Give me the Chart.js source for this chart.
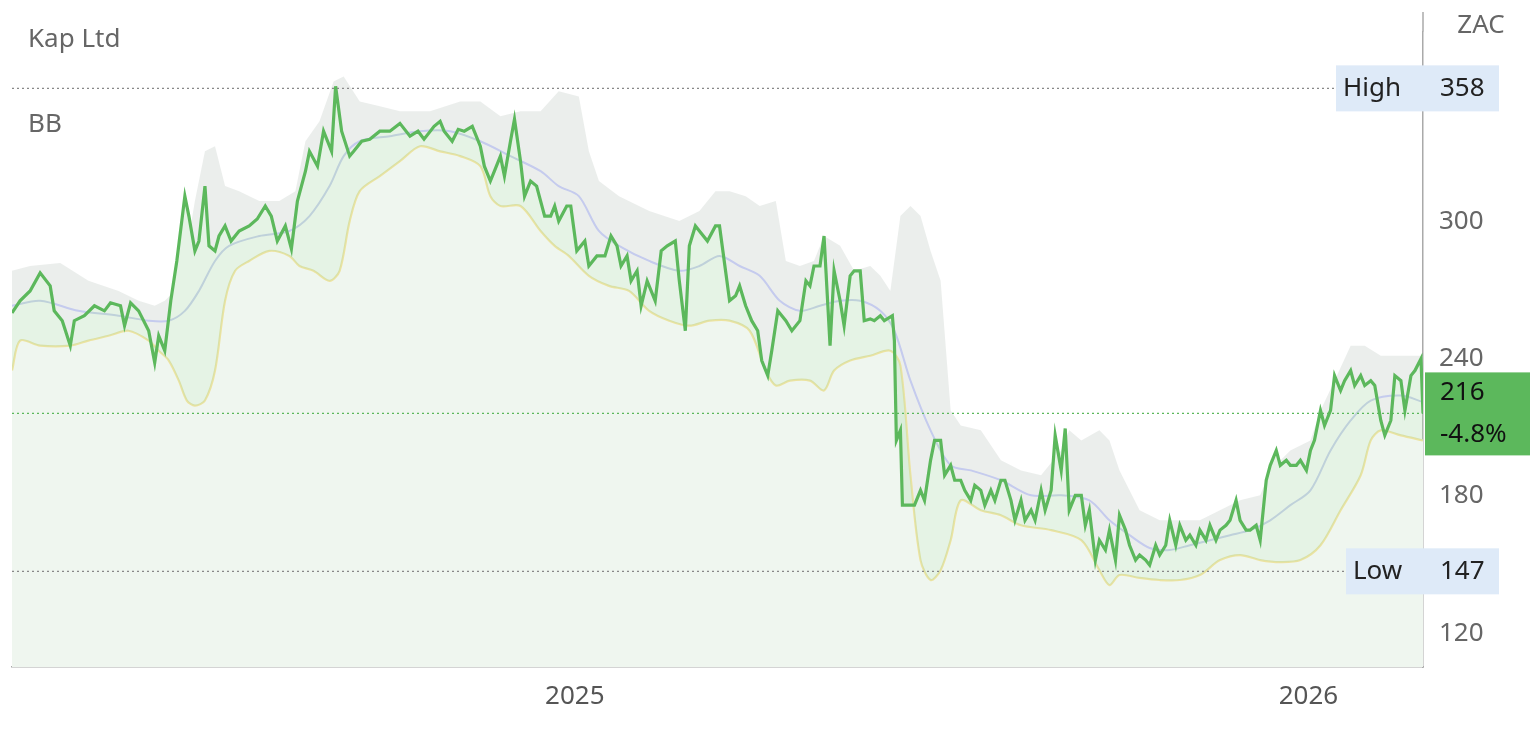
<!DOCTYPE html>
<html><head><meta charset="utf-8">
<script src="https://cdn.jsdelivr.net/npm/chart.js@4/dist/chart.umd.min.js"></script>
<style>html,body{margin:0;padding:0;background:#fff}#wrap{width:1536px;height:738px}</style>
</head><body><div id="wrap"><canvas id="c"></canvas></div>
<script>
// day numbers counted from 2024-01-01 (day 1)
const priceDays=[86,90,95,100,105,107,111,115,117,122,127,132,135,140,142,145,149,154,157,159,162,165,168,172,174,177,179,182,184,187,189,192,195,199,204,208,212,215,218,222,225,228,232,234,238,241,245,247,250,254,256,260,264,269,274,279,284,288,291,296,299,301,305,308,311,315,319,321,324,326,329,331,334,336,339,341,344,347,351,354,356,358,362,364,367,371,373,377,381,384,387,389,392,394,397,399,402,406,409,412,416,418,421,423,426,428,432,436,438,441,443,446,448,451,454,457,459,462,464,467,471,474,478,481,483,485,488,490,493,495,498,500,503,505,508,510,513,515,518,520,524,525,526,528,529,533,535,538,540,543,545,548,550,553,555,558,560,563,565,568,570,573,575,578,580,583,585,588,590,593,595,598,600,603,605,608,610,612,615,618,620,622,625,627,630,632,635,637,640,642,645,647,650,652,655,657,660,662,665,667,670,672,675,677,680,682,685,687,690,692,695,697,700,702,705,707,710,712,715,717,720,722,725,727,730,732,734,737,739,742,744,747,749,752,754,757,759,762,764,767,769,772,774,777,779,782,784,787,788];
const priceVals=[259.9,265.2,269.5,277.4,271.7,260.8,256.5,245.6,256.5,258.7,263.0,260.8,264.3,263.0,254.3,264.3,260.8,252.1,238.2,249.9,243.4,265.2,282.6,310.9,302.2,287.0,291.3,315.3,289.2,287.0,293.5,297.9,291.3,295.7,297.9,300.9,306.6,302.2,291.3,297.9,287.9,308.8,321.8,330.5,324.0,339.3,330.5,358.9,339.3,328.4,330.5,334.9,335.8,339.3,339.3,342.7,337.1,339.3,335.8,341.4,343.6,339.3,334.9,340.1,339.3,341.4,332.7,324.0,317.5,321.8,328.4,319.7,334.9,344.5,326.2,310.9,317.5,315.3,302.2,302.2,306.6,300.0,306.6,306.6,287.0,291.3,280.4,284.8,284.8,293.5,289.2,280.4,284.8,273.9,278.3,263.0,273.9,265.2,287.0,289.2,291.3,273.9,252.1,289.2,297.9,295.7,291.3,297.9,297.9,278.3,265.2,267.4,271.7,263.0,256.5,252.1,239.1,232.5,243.4,260.8,256.5,252.1,256.5,273.9,271.7,280.4,280.4,293.5,245.6,278.3,265.2,254.3,276.1,278.3,278.3,256.5,257.3,256.5,258.7,256.5,258.7,247.8,204.2,208.6,175.9,175.9,175.9,182.4,178.0,195.5,204.2,204.2,189.0,193.3,186.8,186.8,182.4,178.0,184.6,182.4,175.9,182.4,178.0,186.8,186.8,178.0,169.3,178.0,169.3,173.7,169.3,182.4,173.7,182.4,206.4,191.1,209.4,173.7,180.2,180.2,167.1,173.7,151.9,160.6,156.3,165.0,151.9,171.5,165.0,158.4,151.9,154.1,151.9,149.7,158.4,154.1,158.4,169.3,158.4,167.1,160.6,162.8,158.4,165.0,160.6,167.1,160.6,165.0,167.1,169.3,178.0,169.3,165.0,165.0,167.1,160.6,186.8,193.3,199.8,193.3,195.5,193.3,193.3,195.5,191.1,199.8,204.2,217.3,210.7,217.3,232.5,226.0,230.3,234.7,228.2,232.5,228.2,230.3,228.2,212.9,206.4,212.9,232.5,230.3,217.3,232.5,234.7,239.9,216.0];
const upperDays=[86,95,110,124,139,149,157,162,167,172,177,182,187,192,199,209,219,227,232,239,246,251,259,269,279,294,309,319,329,339,349,358,368,373,378,388,403,418,428,436,443,451,458,466,471,478,485,490,498,505,513,518,523,528,533,538,543,548,553,558,568,578,588,598,608,612,618,627,632,637,647,657,667,677,687,697,707,712,722,732,737,744,752,759,767,777,788];
const upperVals=[278.3,280.4,281.7,273.9,269.5,265.2,263.0,265.2,269.5,282.6,308.8,330.5,332.7,315.3,313.1,308.8,308.8,313.1,334.9,343.6,361.0,363.2,352.3,350.2,348.0,348.0,352.3,352.3,345.8,348.0,348.0,356.7,354.5,330.5,317.5,310.9,304.4,300.0,304.4,313.1,313.1,310.9,306.6,308.8,282.6,280.4,282.6,293.5,289.2,278.3,280.4,276.1,269.5,302.2,306.6,302.2,287.0,273.9,217.3,210.7,208.6,195.5,191.1,189.0,199.8,208.6,204.2,208.6,204.2,191.1,173.7,169.3,169.3,169.3,173.7,178.0,180.2,191.1,199.8,204.2,217.3,230.3,245.6,245.6,241.2,241.2,241.2];
const lowerDays=[86,90,100,115,124,134,144,154,159,164,169,173,177,182,187,192,197,204,214,224,229,236,244,249,254,259,269,279,289,299,309,319,324,329,339,349,356,363,373,383,393,403,413,423,433,443,453,461,466,473,483,490,495,503,513,523,528,533,538,543,548,553,558,568,578,588,603,618,627,632,637,647,657,667,677,687,697,707,717,727,737,747,757,762,767,777,788];
const lowerVals=[234.7,247.8,245.6,245.6,247.8,249.9,252.1,247.8,243.4,239.1,230.3,221.6,219.4,221.6,234.7,265.2,278.3,282.6,287.0,284.8,280.4,278.3,273.9,278.3,300.0,313.1,319.7,326.2,332.7,330.5,328.4,324.0,310.9,306.6,306.6,295.7,289.2,284.8,276.1,271.7,269.5,260.8,256.5,254.3,256.5,256.5,252.1,234.7,228.2,230.3,230.3,226.0,234.7,239.1,241.2,243.4,236.9,189.0,151.9,143.2,147.5,160.6,178.0,173.7,171.5,167.1,165.0,160.6,147.5,141.0,145.4,144.1,143.2,143.2,145.4,151.9,154.1,151.9,151.0,151.9,158.4,173.7,189.0,204.2,208.6,206.4,204.2];
const midDays=[86,100,119,139,154,164,172,179,187,194,209,224,234,244,251,259,274,289,304,319,334,349,358,368,378,388,403,418,428,438,448,458,468,478,488,498,508,518,525,533,543,553,563,578,593,608,622,632,642,652,662,672,682,692,702,712,722,732,742,752,762,777,788];
const midVals=[263.0,265.2,260.8,258.7,256.5,256.5,260.8,269.5,282.6,289.2,293.5,295.7,302.2,315.3,328.4,334.9,337.1,339.3,339.3,334.9,328.4,321.8,315.3,310.9,295.7,289.2,282.6,278.3,280.4,284.8,280.4,276.1,265.2,260.8,263.0,265.2,265.2,260.8,252.1,230.3,208.6,193.3,191.1,186.8,180.2,180.2,178.0,169.3,162.8,157.2,156.3,158.4,160.6,162.8,165.0,169.3,175.9,182.4,199.8,212.9,221.6,223.8,221.0];
const yTicks=[120,180,240,300];
const xTickDays=[366,731];
const xTickLabels=['2025','2026'];
const highVal=358, lowVal=147, lastVal=216, lastChange='-4.8%';
const title='Kap Ltd', subtitle='BB', unit='ZAC';

const pts=(d,v)=>d.map((x,i)=>({x:x,y:v[i]}));
const FONT='"Noto Sans", "Open Sans", sans-serif';

const overlay={id:'overlay',
 afterDatasetsDraw(ch){
  const c=ch.ctx, a=ch.chartArea, y=ch.scales.y;
  c.save();
  c.strokeStyle='#aaa';c.lineWidth=1.5;c.beginPath();c.moveTo(a.right,12);c.lineTo(a.right,a.top);c.stroke();
  c.font='26px '+FONT; c.textBaseline='middle';
  c.fillStyle='#666'; c.textAlign='left';
  c.fillText(title,28,40); c.fillText(subtitle,28,125);
  c.textAlign='center'; c.fillText(unit,1481,26);
  const hline=(v,endX,col)=>{const py=y.getPixelForValue(v);c.strokeStyle=col;c.lineWidth=1.3;c.setLineDash([2,3]);c.beginPath();c.moveTo(a.left,py);c.lineTo(endX,py);c.stroke();c.setLineDash([]);return py;};
  let py=hline(highVal,1335,'#888');
  c.fillStyle='#deeaf8';c.fillRect(1336,py-23,163,46);
  c.fillStyle='#222';c.textAlign='left';c.fillText('High',1343,py);c.fillText(String(highVal),1440,py);
  py=hline(lowVal,1345,'#888');
  c.fillStyle='#deeaf8';c.fillRect(1346,py-23,153,46);
  c.fillStyle='#222';c.fillText('Low',1353,py);c.fillText(String(lowVal),1440,py);
  py=hline(lastVal,a.right,'#5cb85c');
  c.fillStyle='#5cb85c';c.fillRect(1425,py-41,105,83);
  c.fillStyle='#111';c.fillText(String(lastVal),1440,py-21);c.fillText(lastChange,1440,py+21);
  c.restore();
 }};

new Chart(document.getElementById('c'),{
 type:'line',
 data:{datasets:[
  {label:'Price',data:pts(priceDays,priceVals),borderColor:'#5cb85c',borderWidth:3.2,pointRadius:0,tension:0,fill:{target:3,above:'rgba(180,220,180,0.35)',below:'rgba(180,220,180,0.35)'},order:0},
  {label:'Upper',data:pts(upperDays,upperVals),borderColor:'rgba(0,0,0,0)',borderWidth:0,pointRadius:0,tension:0,fill:{target:0,above:'rgba(215,222,218,0.5)',below:'rgba(215,222,218,0)'},order:3},
  {label:'Mid',data:pts(midDays,midVals),borderColor:'#c5cbee',borderWidth:2,pointRadius:0,tension:0.3,fill:false,order:1},
  {label:'Lower',data:pts(lowerDays,lowerVals),borderColor:'#ece3a0',borderWidth:2.2,pointRadius:0,tension:0.3,fill:{target:'start',above:'#eff6ef'},order:2}
 ]},
 options:{responsive:true,maintainAspectRatio:false,animation:false,
  layout:{padding:{left:12,top:12,right:0,bottom:0}},
  plugins:{legend:{display:false},tooltip:{enabled:false},filler:{propagate:false}},
  scales:{
   x:{type:'linear',min:86,max:788,
     afterBuildTicks:s=>{s.ticks=xTickDays.map(v=>({value:v}));},
     ticks:{callback:v=>xTickLabels[xTickDays.indexOf(v)]||'',font:{size:26,family:FONT},color:'#555',padding:6,maxRotation:0},
     grid:{display:false,drawTicks:true,tickLength:8,tickColor:'#999'},
     border:{color:'#aaa',width:1.5},
     afterFit:s=>{s.height=71;}},
   y:{position:'right',min:105.2,max:382.8,
     afterBuildTicks:s=>{s.ticks=yTicks.map(v=>({value:v}));},
     ticks:{font:{size:26,family:FONT},color:'#666',padding:16},
     grid:{display:false,drawTicks:false},
     border:{color:'#aaa',width:1.5},
     afterFit:s=>{s.width=113;}}
  }},
 plugins:[overlay]
});
</script></body></html>
